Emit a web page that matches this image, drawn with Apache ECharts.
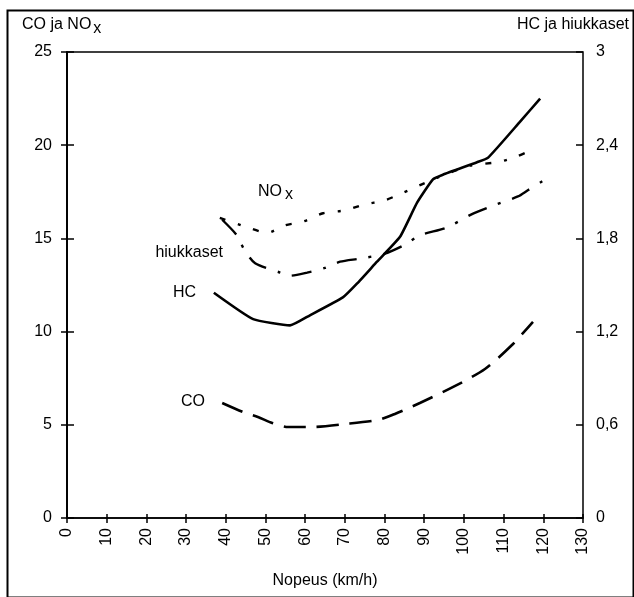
<!DOCTYPE html>
<html><head><meta charset="utf-8">
<script src="https://cdn.jsdelivr.net/npm/echarts@6/dist/echarts.min.js"></script>
<style>html,body{margin:0;padding:0;background:#fff}#c{width:634px;height:597px}</style>
</head><body><div id="c"></div>
<script>
// ---- data ----
const xTitle = 'Nopeus (km/h)';
const leftTitle = 'CO ja NO';
const leftTitleSub = 'x';
const rightTitle = 'HC ja hiukkaset';

const hcSpeed  = [37.0, 46.9, 56.2, 61.2, 69.5, 73.1, 78.1, 83.9, 88.2, 92.2, 94.7, 103.3, 106.1, 114.1, 119.2];
const hcValues = [1.45, 1.28, 1.24, 1.305, 1.42, 1.51, 1.65, 1.81, 2.03, 2.18, 2.21, 2.29, 2.32, 2.55, 2.70];

const noxSpeed  = [38.5, 45.4, 50.4, 54.9, 59.5, 64.5, 70.0, 74.6, 80.1, 84.7, 89.4, 93.2, 101.5, 108.8, 113.4, 118.2];
const noxValues = [16.1, 15.6, 15.3, 15.7, 15.9, 16.35, 16.5, 16.8, 17.05, 17.45, 17.9, 18.25, 18.9, 19.1, 19.4, 19.85];

const hiukSpeed  = [39.1, 42.8, 44.6, 47.4, 53.7, 56.2, 60.5, 65.0, 68.8, 73.8, 79.9, 85.2, 88.9, 95.7, 102.3, 108.3, 113.6, 116.1, 119.9];
const hiukValues = [1.92, 1.82, 1.73, 1.64, 1.58, 1.56, 1.58, 1.61, 1.65, 1.67, 1.70, 1.76, 1.82, 1.87, 1.96, 2.02, 2.07, 2.11, 2.17];

const coSpeed  = [39.1, 44.3, 48.1, 51.7, 55.7, 61.7, 70.0, 78.4, 82.6, 88.9, 97.3, 105.3, 112.1, 117.4];
const coValues = [6.17, 5.69, 5.42, 5.10, 4.88, 4.88, 5.04, 5.26, 5.58, 6.17, 7.03, 7.99, 9.28, 10.52];

const seriesLabels = ['HC', 'NO', 'hiukkaset', 'CO'];

// ---- chart ----
const FONT = 'Liberation Sans';
const FS = 16;
const zip = (xs, ys) => xs.map((x, i) => [x, ys[i]]);
const chart = echarts.init(document.getElementById('c'), null, {renderer: 'canvas'});

const xBase = {type: 'value', min: 0, max: 130, interval: 10, gridIndex: 0, position: 'bottom', splitLine: {show: false}};
const yL = {type: 'value', min: 0, max: 25, interval: 5, position: 'left', splitLine: {show: false}};
const yR = {type: 'value', min: 0, max: 3, interval: 0.6, position: 'right', splitLine: {show: false}};
const lineBlack = {show: true, lineStyle: {color: '#000', width: 1.5}};
const txt = {color: '#000', fontFamily: FONT, fontSize: FS};

const option = {
  animation: false,
  backgroundColor: '#fff',
  grid: {left: 67, right: 51, top: 52, bottom: 79, show: true, borderColor: '#000', borderWidth: 1.5, backgroundColor: 'transparent'},
  xAxis: [
    Object.assign({}, xBase, {
      axisLine: lineBlack,
      axisTick: {show: true, inside: false, length: 5, lineStyle: {color: '#000', width: 1.5}},
      axisLabel: Object.assign({}, txt, {rotate: 90, margin: 10}),
      name: xTitle, nameLocation: 'middle', nameGap: 55,
      nameTextStyle: txt
    }),
    Object.assign({}, xBase, {
      axisLine: {show: false},
      axisTick: {show: true, inside: true, length: 4, lineStyle: {color: '#000', width: 1.5}},
      axisLabel: {show: false}
    })
  ],
  yAxis: [
    Object.assign({}, yL, {
      axisLine: lineBlack,
      axisTick: {show: true, inside: false, length: 6, lineStyle: {color: '#000', width: 1.5}},
      axisLabel: Object.assign({}, txt, {margin: 15})
    }),
    Object.assign({}, yR, {
      axisLine: lineBlack,
      axisTick: {show: true, inside: false, length: 7, lineStyle: {color: '#000', width: 1.5}},
      axisLabel: Object.assign({}, txt, {margin: 13,
        formatter: v => String(Math.round(v * 10) / 10).replace('.', ',')})
    }),
    Object.assign({}, yL, {
      axisLine: {show: false},
      axisTick: {show: true, inside: true, length: 5, lineStyle: {color: '#000', width: 1.5}},
      axisLabel: {show: false}
    }),
    Object.assign({}, yR, {
      axisLine: {show: false},
      axisTick: {show: true, inside: true, length: 7, lineStyle: {color: '#000', width: 1.5}},
      axisLabel: {show: false}
    })
  ],
  series: [
    {name: 'HC', type: 'line', yAxisIndex: 1, data: zip(hcSpeed, hcValues), showSymbol: false, symbol: 'none', smooth: 0.15,
     lineStyle: {color: '#000', width: 2.6, type: 'solid'}},
    {name: 'NOx', type: 'line', yAxisIndex: 0, data: zip(noxSpeed, noxValues), showSymbol: false, symbol: 'none', smooth: 0.25,
     lineStyle: {color: '#000', width: 2.4, type: [6, 13, 3, 13]}},
    {name: 'hiukkaset', type: 'line', yAxisIndex: 1, data: zip(hiukSpeed, hiukValues), showSymbol: false, symbol: 'none', smooth: 0.25,
     lineStyle: {color: '#000', width: 2.4, type: [20, 12, 3, 12]}},
    {name: 'CO', type: 'line', yAxisIndex: 0, data: zip(coSpeed, coValues), showSymbol: false, symbol: 'none', smooth: 0.25,
     lineStyle: {color: '#000', width: 2.6, type: [22, 11]}}
  ],
  graphic: [
    {type: 'rect', left: 5, top: 8, shape: {x: 0, y: 0, width: 626, height: 587}, style: {fill: 'none', stroke: '#000', lineWidth: 2}, silent: true},
    {type: 'text', left: 22, top: 17, style: {text: '{a|' + leftTitle + '}{b|' + leftTitleSub + '}',
      rich: {a: {fontFamily: FONT, fontSize: FS, fill: '#000'}, b: {fontFamily: FONT, fontSize: FS, fill: '#000', padding: [7, 0, 0, 2]}}}},
    {type: 'text', right: 5, top: 17, style: {text: rightTitle, font: FS + 'px "' + FONT + '"', fill: '#000'}},
    {type: 'text', left: 258, top: 184, style: {text: '{a|' + seriesLabels[1] + '}{b|x}',
      rich: {a: {fontFamily: FONT, fontSize: FS, fill: '#000'}, b: {fontFamily: FONT, fontSize: FS, fill: '#000', padding: [6, 0, 0, 3]}}}},
    {type: 'text', right: 634 - 223, top: 245, style: {text: seriesLabels[2], font: FS + 'px "' + FONT + '"', fill: '#000'}},
    {type: 'text', right: 634 - 196, top: 285, style: {text: seriesLabels[0], font: FS + 'px "' + FONT + '"', fill: '#000'}},
    {type: 'text', right: 634 - 205, top: 394, style: {text: seriesLabels[3], font: FS + 'px "' + FONT + '"', fill: '#000'}}
  ]
};
chart.setOption(option);
</script></body></html>
